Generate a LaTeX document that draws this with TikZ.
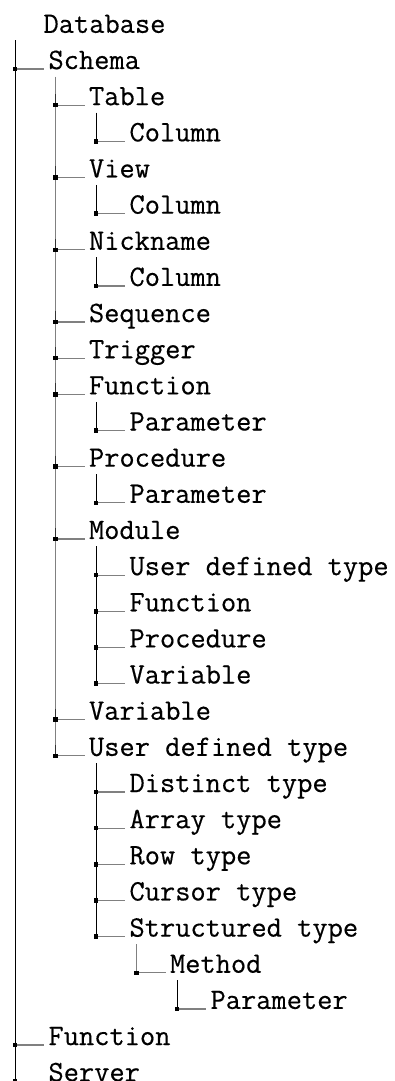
\documentclass[tikz,border=0pt]{standalone}
\usepackage{fontspec}
\newfontfamily\treefont[FakeBold=0.4]{Latin Modern Mono}
\usetikzlibrary{calc}
\begin{document}
\begin{tikzpicture}[x=1pt,y=1pt,
  label/.style={anchor=base west,inner sep=0pt,outer sep=0pt,font=\fontsize{29.6}{34}\selectfont\treefont},
  trunkblack/.style={draw=black,line width=1pt},
  trunkgray/.style={draw=black!50,line width=1.4pt},
  trunkdark/.style={draw=black!80,line width=1.4pt},
  twig/.style={draw=black!50,line width=1.2pt}]
\useasboundingbox (0,0) rectangle (394,-1081);

% entries: row / x of label / text
\foreach \i/\x/\t in {
  0/43.5/Database,
  1/48.5/Schema,
  2/89/Table, 3/129.5/Column,
  4/89/View, 5/129.5/Column,
  6/89/Nickname, 7/129.5/Column,
  8/89/Sequence, 9/89/Trigger,
  10/89/Function, 11/129.5/Parameter,
  12/89/Procedure, 13/129.5/Parameter,
  14/89/Module, 15/129.5/User defined type, 16/129.5/Function,
  17/129.5/Procedure, 18/129.5/Variable,
  19/89/Variable, 20/89/User defined type,
  21/129.5/Distinct type, 22/129.5/Array type, 23/129.5/Row type,
  24/129.5/Cursor type, 25/129.5/Structured type,
  26/170/Method, 27/210.5/Parameter,
  28/48.5/Function, 29/48.5/Server}
  \node[label] (n\i) at (\x,{-32.85-36.15*\i}) {\t};

% trunk of the root
\draw[trunkblack] ([shift={(-28.5,-7.5)}]n0.base west) coordinate (r0)
  -- (r0 |- n29.base west);

% trunks of inner entries: parent / last child / style
\foreach \p/\c/\s in {1/20/trunkgray, 2/3/trunkblack, 4/5/trunkblack,
  6/7/trunkblack, 10/11/trunkblack, 12/13/trunkblack, 14/18/trunkblack,
  20/25/trunkblack, 25/26/trunkgray, 26/27/trunkblack}
  \draw[\s] ([shift={(7,-7.5)}]n\p.base west) coordinate (t\p)
    -- (t\p |- n\c.base west);

% darker joints along the schema trunk
\foreach \c in {2,4,6,8,9,10,12,14,19,20}
  \draw[trunkdark] ([shift={(-33.5,11)}]n\c.base west)
    -- ([xshift=-33.5]n\c.base west);

% branches and junction marks
\foreach \c in {1,...,29} {
  \draw[twig] ([xshift=-33.5]n\c.base west) -- ([xshift=-4.5]n\c.base west);
  \fill[black] ([shift={(-35.75,-2.25)}]n\c.base west) rectangle +(4.5,4.5);
}
\end{tikzpicture}
\end{document}
